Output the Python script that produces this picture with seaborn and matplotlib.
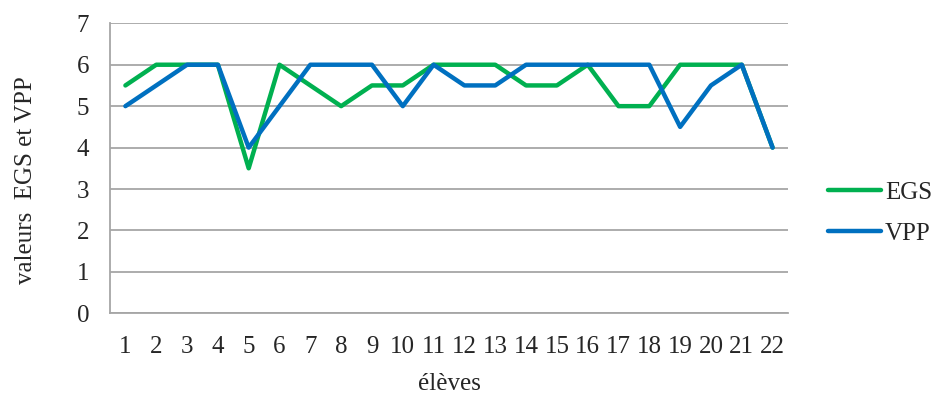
import matplotlib
matplotlib.use("Agg")
import matplotlib.pyplot as plt
import seaborn as sns
import pandas as pd

eleves = list(range(1, 23))
egs = [5.5, 6, 6, 6, 3.5, 6, 5.5, 5, 5.5, 5.5, 6, 6, 6, 5.5, 5.5, 6, 5, 5, 6, 6, 6, 4]
vpp = [5, 5.5, 6, 6, 4, 5, 6, 6, 6, 5, 6, 5.5, 5.5, 6, 6, 6, 6, 6, 4.5, 5.5, 6, 4]
series_names = ["EGS", "VPP"]
colors = ["#00B050", "#0070C0"]

df = pd.DataFrame({
    "eleve": eleves * 2,
    "valeur": egs + vpp,
    "serie": ["EGS"] * len(eleves) + ["VPP"] * len(eleves),
})

sns.set_style("white")
plt.rcParams["font.family"] = ["Liberation Serif", "DejaVu Serif"]

fig = plt.figure(figsize=(9.37, 3.94), dpi=100)
ax = fig.add_axes([110 / 937, 1 - 313.3 / 394, (788 - 110) / 937, (313.3 - 23.3) / 394])

sns.lineplot(data=df, x="eleve", y="valeur", hue="serie", hue_order=series_names,
             palette=colors, linewidth=3.2, ax=ax, legend=True,
             solid_joinstyle="round", solid_capstyle="round")

ax.set_xlim(0.5, 22.5)
ax.set_ylim(0, 7)
ax.set_yticks(range(0, 8))
ax.set_xticks(eleves)
ax.set_xticklabels([str(e) for e in eleves])
ax.grid(axis="y", color="#A6A6A6", linewidth=1.3)
ax.grid(axis="x", visible=False)
ax.set_axisbelow(True)
for s in ["top", "right"]:
    ax.spines[s].set_visible(False)
for s in ["left", "bottom"]:
    ax.spines[s].set_color("#A6A6A6")
    ax.spines[s].set_linewidth(1.3)
ax.tick_params(axis="y", length=6, color="#A6A6A6", width=1.3, pad=9, labelsize=18)
ax.tick_params(axis="x", length=0, pad=16, labelsize=18)
ax.set_xlabel("élèves", fontsize=18, labelpad=11)
ax.set_ylabel("valeurs  EGS et VPP", fontsize=18)
ax.yaxis.set_label_coords(-0.107, 0.46)

leg = ax.get_legend()
leg.remove()
handles = [plt.Line2D([], [], color=c, linewidth=3.2, solid_capstyle="round") for c in colors]
fig.legend(handles, series_names, loc="center left", bbox_to_anchor=(806 / 937, 1 - 213 / 394),
           frameon=False, fontsize=18, handlelength=2.1, handletextpad=0.15, labelspacing=0.75)

fig.savefig("out.png", dpi=100)
